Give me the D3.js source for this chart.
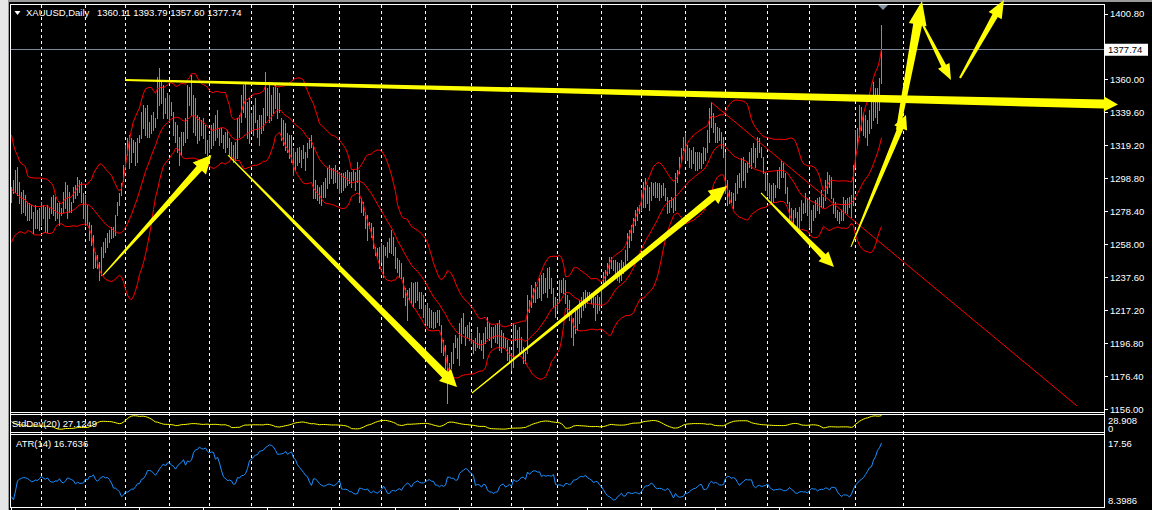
<!DOCTYPE html>
<html><head><meta charset="utf-8">
<script src="https://cdn.jsdelivr.net/npm/d3@7"></script>
<style>html,body{margin:0;padding:0;background:#000;overflow:hidden}svg{display:block}</style>
</head><body><svg id="c" width="1152" height="510"></svg>
<script>
// ---------------- DATA ----------------
const symbolTitle = "XAUUSD,Daily";
const lastOHLC = ["1360.11", "1393.79", "1357.60", "1377.74"];
const currentPrice = 1377.74;

const highs = [
1293.6,1297.7,1303.9,1306.0,1296.7,1290.5,1291.5,1288.5,1284.3,1283.3,
1282.3,1278.1,1282.3,1279.2,1280.2,1284.3,1282.3,1281.2,1282.3,1280.2,
1287.4,1288.5,1287.4,1283.3,1284.3,1280.2,1290.5,1296.7,1294.6,1290.5,
1284.3,1293.6,1294.6,1299.8,1297.7,1296.7,1289.5,1288.5,1282.3,1271.9,
1269.9,1263.7,1253.4,1251.3,1247.2,1256.5,1259.6,1261.6,1264.7,1266.8,
1268.8,1268.8,1276.1,1284.3,1289.5,1295.7,1307.0,1319.4,1323.5,1325.6,
1323.5,1322.5,1321.5,1323.5,1325.6,1340.0,1344.2,1342.1,1344.2,1333.8,
1338.0,1340.0,1335.9,1361.7,1366.9,1358.6,1356.5,1348.3,1351.4,1350.4,
1346.2,1340.0,1333.8,1331.8,1324.6,1327.7,1327.7,1335.9,1356.5,1355.5,
1362.7,1350.4,1348.3,1338.0,1336.9,1334.9,1335.9,1331.8,1322.5,1325.6,
1331.8,1332.8,1338.0,1341.1,1329.7,1329.7,1325.6,1327.7,1328.7,1323.5,
1321.5,1319.4,1321.5,1335.9,1338.0,1350.4,1356.5,1357.6,1346.2,1348.3,
1339.0,1344.2,1348.3,1334.9,1338.0,1338.0,1342.1,1364.8,1354.5,1356.5,
1350.4,1355.5,1356.5,1354.5,1351.4,1335.9,1334.9,1332.8,1326.6,1325.6,
1325.6,1317.3,1315.3,1317.3,1318.4,1316.3,1319.4,1315.3,1320.4,1323.5,
1325.6,1319.0,1297.7,1294.6,1293.6,1294.6,1296.7,1298.8,1305.0,1307.0,
1305.0,1305.0,1307.0,1303.9,1302.9,1301.9,1301.9,1302.9,1303.9,1302.9,
1302.9,1303.9,1302.9,1309.1,1303.9,1286.4,1284.3,1278.1,1276.1,1271.9,
1270.9,1268.8,1256.5,1255.4,1256.5,1258.5,1257.5,1256.5,1259.6,1261.6,
1266.8,1262.7,1256.5,1249.3,1248.2,1246.2,1237.9,1230.7,1229.7,1230.7,
1234.8,1233.8,1234.8,1234.8,1228.6,1228.6,1226.6,1220.4,1221.4,1218.3,
1217.3,1216.2,1216.2,1217.3,1217.3,1208.0,1198.7,1195.6,1189.4,1184.3,
1191.5,1196.7,1201.8,1199.8,1209.0,1212.1,1215.2,1207.0,1208.0,1210.1,
1202.9,1198.7,1199.8,1207.0,1202.9,1198.7,1202.9,1207.0,1213.2,1209.0,
1207.0,1207.0,1208.0,1209.0,1211.1,1204.9,1202.9,1199.8,1198.7,1194.6,
1190.5,1209.0,1208.0,1204.9,1207.0,1200.8,1194.6,1191.5,1226.6,1223.5,
1232.8,1230.7,1234.8,1231.7,1236.9,1238.9,1240.0,1236.9,1243.1,1244.1,
1236.9,1230.7,1225.5,1223.5,1235.9,1235.9,1236.9,1235.9,1226.6,1223.5,
1216.3,1212.1,1219.4,1220.4,1223.5,1225.5,1228.6,1229.7,1228.6,1228.6,
1227.6,1227.6,1225.5,1226.6,1225.5,1231.7,1241.0,1242.0,1246.2,1250.3,
1250.3,1248.2,1248.2,1247.2,1246.2,1248.2,1247.2,1254.4,1264.7,1266.8,
1269.9,1274.0,1279.2,1281.2,1282.3,1291.6,1296.7,1298.8,1294.7,1293.6,
1296.7,1295.7,1296.7,1295.7,1295.7,1294.7,1295.7,1292.6,1287.4,1285.4,
1287.4,1286.4,1301.9,1304.0,1312.2,1317.4,1324.6,1326.6,1319.4,1317.4,
1316.3,1318.4,1315.3,1315.3,1315.3,1314.3,1318.4,1317.4,1328.7,1342.1,
1346.2,1339.0,1332.8,1330.8,1329.7,1327.7,1324.6,1315.3,1297.8,1291.6,
1290.5,1289.5,1295.7,1300.9,1301.9,1311.2,1312.2,1308.1,1309.1,1315.3,
1317.4,1320.4,1317.4,1324.6,1323.5,1318.4,1312.2,1302.9,1300.9,1295.7,
1294.7,1295.7,1294.7,1304.0,1306.0,1310.1,1308.1,1301.9,1293.6,1284.4,
1280.2,1279.2,1280.2,1278.2,1281.3,1285.4,1283.3,1289.5,1286.4,1285.4,
1279.2,1282.3,1285.4,1286.4,1287.4,1291.6,1287.4,1297.8,1302.9,1300.9,
1299.8,1286.4,1284.4,1279.2,1278.2,1279.2,1287.4,1285.4,1286.4,1287.4,
1288.5,1307.0,1328.7,1329.7,1344.2,1343.1,1339.0,1338.0,1334.9,1341.1,
1346.2,1358.6,1354.5,1354.5,1361.0,1393.79];

const lows = [
1284.3,1289.5,1290.5,1288.5,1283.3,1277.1,1278.1,1276.1,1273.0,1273.0,
1274.0,1264.7,1267.8,1267.8,1266.8,1269.9,1274.0,1265.8,1265.8,1274.0,
1277.1,1276.1,1273.0,1274.0,1269.9,1276.1,1278.1,1280.2,1274.0,1278.1,
1278.1,1284.3,1286.4,1288.5,1290.5,1284.3,1274.0,1269.9,1269.9,1260.6,
1257.5,1243.1,1244.1,1243.1,1235.9,1238.9,1250.3,1253.4,1256.5,1259.6,
1261.6,1262.7,1263.7,1276.1,1282.3,1288.5,1297.0,1307.0,1313.2,1305.0,
1309.1,1315.3,1307.0,1309.1,1321.5,1323.5,1329.7,1325.6,1324.6,1324.6,
1326.6,1328.7,1330.7,1336.0,1344.2,1345.2,1335.9,1339.0,1335.9,1333.8,
1338.0,1325.6,1321.5,1315.3,1307.0,1313.2,1319.4,1321.5,1323.5,1344.2,
1338.0,1327.7,1325.6,1320.4,1322.5,1325.6,1323.5,1314.2,1313.2,1315.3,
1317.3,1319.4,1322.5,1324.6,1319.4,1321.5,1317.3,1315.3,1318.4,1313.2,
1311.1,1309.1,1310.1,1311.1,1324.6,1333.8,1340.0,1336.9,1323.5,1320.4,
1328.7,1325.6,1333.8,1324.6,1319.4,1326.6,1328.7,1333.8,1338.0,1333.8,
1334.9,1339.0,1342.1,1335.9,1340.0,1322.5,1319.4,1316.3,1315.3,1311.1,
1309.1,1300.8,1303.9,1307.0,1309.1,1306.0,1311.1,1303.9,1312.2,1317.3,
1318.4,1286.4,1286.4,1285.4,1283.3,1282.3,1287.4,1287.4,1292.6,1295.7,
1298.8,1295.7,1296.7,1292.6,1289.5,1290.5,1291.5,1293.6,1294.6,1295.7,
1293.6,1297.7,1291.5,1296.7,1284.3,1278.1,1276.1,1267.8,1260.6,1267.8,
1262.7,1255.4,1251.3,1249.3,1243.1,1247.2,1237.9,1251.3,1250.3,1253.4,
1252.3,1251.3,1243.1,1241.0,1237.9,1236.9,1225.5,1220.4,1211.1,1223.5,
1221.4,1219.3,1222.4,1223.5,1218.3,1218.3,1213.2,1209.0,1208.0,1207.0,
1207.0,1205.9,1207.0,1210.1,1208.0,1191.5,1189.4,1181.2,1159.5,1178.1,
1181.2,1184.3,1194.6,1187.4,1183.3,1196.7,1202.9,1195.6,1200.8,1198.7,
1196.7,1190.5,1192.5,1194.6,1193.6,1192.5,1187.4,1196.7,1199.8,1198.7,
1194.6,1199.8,1197.7,1196.7,1192.5,1191.5,1194.6,1194.6,1186.4,1184.3,
1180.2,1182.2,1198.7,1194.6,1190.5,1190.5,1184.3,1184.3,1190.5,1216.3,
1219.4,1222.5,1222.5,1224.5,1225.5,1223.5,1227.6,1228.6,1225.5,1230.7,
1227.6,1219.4,1213.2,1217.3,1222.5,1228.6,1227.6,1221.4,1215.2,1211.1,
1200.8,1195.6,1202.9,1204.9,1209.0,1213.2,1217.3,1219.4,1221.4,1223.5,
1221.4,1219.4,1211.1,1215.2,1217.3,1220.4,1231.7,1234.8,1238.9,1240.0,
1243.1,1242.0,1240.0,1235.9,1234.8,1235.9,1240.0,1242.0,1248.2,1256.5,
1260.6,1265.8,1269.9,1273.0,1277.1,1279.2,1281.2,1281.2,1283.3,1279.2,
1285.4,1288.5,1287.4,1287.4,1285.4,1287.4,1288.5,1285.4,1277.1,1278.2,
1281.2,1278.2,1279.2,1296.7,1301.9,1309.1,1316.3,1310.1,1310.1,1306.0,
1305.0,1308.1,1303.9,1303.9,1305.0,1305.0,1308.1,1310.1,1315.0,1321.5,
1330.8,1327.7,1321.5,1321.5,1322.5,1317.4,1312.2,1289.5,1282.3,1283.3,
1284.3,1280.2,1285.4,1289.5,1293.6,1293.6,1297.8,1293.6,1302.9,1306.0,
1305.0,1309.1,1306.0,1312.2,1315.3,1312.2,1301.9,1291.6,1288.5,1286.4,
1284.3,1284.3,1287.4,1293.6,1292.6,1299.8,1299.8,1289.5,1283.3,1273.0,
1273.0,1269.9,1275.1,1268.9,1267.8,1273.0,1277.1,1278.2,1276.1,1268.9,
1265.8,1273.0,1275.1,1279.2,1277.1,1281.3,1281.3,1285.4,1289.5,1293.6,
1286.4,1277.1,1275.1,1273.0,1270.9,1273.0,1273.0,1278.2,1277.1,1281.3,
1275.1,1282.3,1306.0,1318.4,1324.6,1328.7,1325.6,1324.6,1319.4,1326.6,
1329.7,1334.9,1337.0,1332.8,1341.1,1357.60];

const closes = [
1291,1295,1301,1292,1286,1283,1280,1281,1276,1279,
1276,1270,1276,1272,1273,1278,1277,1274,1277,1277,
1283,1280,1276,1278,1275,1279,1287,1288,1282,1282,
1281,1291,1291,1295,1293,1287,1278,1276,1274,1264,
1262,1248,1249,1246,1243,1254,1256,1257,1262,1264,
1266,1266,1275,1282,1287,1294,1303,1317,1318,1322,
1318,1320,1312,1318,1324,1337,1338,1337,1327,1331,
1333,1332,1334,1357,1348,1351,1340,1342,1344,1346,
1340,1328,1324,1318,1315,1316,1324,1330,1354,1349,
1355,1334,1331,1324,1332,1330,1333,1318,1317,1322,
1320,1322,1336,1327,1322,1324,1320,1324,1321,1317,
1314,1316,1312,1332,1331,1347,1349,1346,1326,1340,
1333,1341,1336,1331,1332,1335,1340,1353,1347,1346,
1342,1348,1349,1344,1342,1324,1322,1319,1318,1316,
1315,1305,1310,1312,1314,1313,1314,1313,1318,1319,
1319,1290,1291,1290,1289,1291,1292,1296,1303,1302,
1300,1300,1298,1297,1294,1293,1298,1297,1299,1299,
1297,1300,1297,1302,1285,1280,1278,1270,1268,1269,
1266,1257,1253,1252,1253,1252,1254,1254,1256,1259,
1255,1255,1246,1244,1240,1240,1228,1225,1224,1229,
1225,1226,1231,1225,1224,1222,1217,1215,1211,1214,
1212,1210,1214,1212,1210,1194,1192,1184,1174,1183,
1189,1194,1196,1195,1205,1208,1205,1202,1204,1201,
1197,1196,1197,1199,1199,1194,1201,1203,1205,1203,
1199,1205,1201,1206,1197,1201,1196,1197,1189,1191,
1188,1204,1201,1202,1204,1191,1187,1190,1224,1219,
1229,1226,1228,1227,1235,1230,1233,1232,1233,1234,
1229,1221,1219,1222,1233,1231,1232,1225,1223,1215,
1209,1201,1210,1213,1221,1222,1225,1223,1226,1225,
1223,1223,1215,1221,1222,1230,1238,1238,1242,1248,
1246,1247,1245,1243,1240,1242,1245,1251,1258,1262,
1267,1269,1275,1277,1281,1284,1293,1285,1289,1284,
1293,1292,1288,1291,1293,1290,1292,1287,1281,1283,
1282,1284,1298,1302,1310,1314,1320,1318,1314,1313,
1309,1314,1310,1308,1313,1309,1314,1316,1324,1340,
1339,1330,1326,1328,1326,1321,1316,1292,1287,1286,
1287,1285,1293,1298,1297,1308,1302,1306,1305,1312,
1310,1312,1314,1320,1318,1314,1304,1294,1293,1290,
1288,1290,1293,1299,1303,1306,1302,1292,1285,1276,
1276,1274,1276,1271,1279,1280,1280,1284,1282,1272,
1271,1280,1281,1284,1285,1284,1286,1296,1297,1296,
1288,1281,1277,1275,1275,1276,1283,1280,1283,1282,
1286,1305,1327,1325,1333,1332,1335,1332,1326,1337,
1342,1345,1344,1343,1360,1377.74];

// closes of the 19 sessions before the first visible bar (indicator warm-up)
const warmupCloses = [1329,1320,1310,1311,1301,1292,1297,1311,1294,1284,1287,1280,1271,1274,1275,1269,1274,1285,1292];

// bar indices of the month separators
const monthStarts = [15,37,57,79,99,120,141,164,185,207,230,250,273,295,315,337,357,378,399,422,446];

const priceTicks = ["1400.80","1380.40","1360.00","1339.60","1319.20","1298.80","1278.40","1258.00","1237.60","1217.20","1196.80","1176.40","1156.00"];
const stdDevName = "StdDev(20) 27.1249";
const stdDevTicks = ["28.908", "0"];
const atrName = "ATR(14) 16.7636";
const atrTicks = ["17.56", "8.3986"];

// hand-drawn objects, in [bar index, price]
const redTrendline = [[350, 1346.0], [533, 1157.9]];
const yellowLevel = [[57, 1359.6], [553.5, 1344.5]];
const yellowArrows = [
  [[46, 1238.9], [100.2, 1313.2]],
  [[108.5, 1313.2], [223, 1169.6]],
  [[230.5, 1165.9], [358, 1294.0]],
  [[375, 1289.7], [411.5, 1243.9]],
  [[420, 1256.3], [447.5, 1338.0]],
  [[443.5, 1328.7], [455.5, 1408.5]],
  [[456, 1393.7], [470, 1359.6]],
  [[474.5, 1360.9], [496.5, 1409.2]]
];

// ---------------- STYLE / LAYOUT ----------------
const arrowStyle = [
  {w0:1, w1:7, hw:18, hl:18},
  {w0:1, w1:8, hw:17, hl:17},
  {w0:1, w1:7, hw:17, hl:18},
  {w0:1, w1:6, hw:14, hl:15},
  {w0:1, w1:6, hw:14, hl:14},
  {w0:4, w1:9, hw:18, hl:24},
  {w0:2, w1:5, hw:13, hl:16},
  {w0:2, w1:6, hw:15, hl:18}
];
const levelStyle = {w0:2, w1:9, hw:15, hl:14};
const C = {bg:"#000", bar:"#32cd32", band:"#ff0000", grid:"#ffffff", text:"#ffffff",
           yellow:"#ffff00", atr:"#1e90ff", priceLine:"#7b8a9c"};
const FONT = "'Liberation Sans', Arial, sans-serif";

const svg = d3.select("#c");
const N = closes.length;
const x = d3.scaleLinear().domain([0, N - 1]).range([11, 881]);
const y = d3.scaleLinear().domain([1156, 1400.8]).range([409, 13.5]);

// ---------------- INDICATORS ----------------
const all = warmupCloses.concat(closes);
const W = warmupCloses.length;
const mid = [], sd = [];
for (let i = 0; i < N; i++) {
  const s = Math.max(0, i + W - 19);
  const win = all.slice(s, i + W + 1);
  const m = d3.mean(win);
  const v = d3.mean(win, d => (d - m) * (d - m));
  mid.push(m); sd.push(Math.sqrt(v));
}
const tr = closes.map((c, i) => {
  const pc = i === 0 ? warmupCloses[W - 1] : closes[i - 1];
  return Math.max(highs[i], pc) - Math.min(lows[i], pc);
});
const atr = tr.map((t, i) => d3.mean(tr.slice(Math.max(0, i - 13), i + 1)));

// ---------------- BACKGROUND / FRAME ----------------
svg.append("rect").attr("width", 1152).attr("height", 510).attr("fill", C.bg);
svg.append("rect").attr("x", 0).attr("y", 0).attr("width", 1152).attr("height", 2).attr("fill", "#9a9a9a");
svg.append("rect").attr("x", 0).attr("y", 0).attr("width", 8).attr("height", 510).attr("fill", "#e6e6e6");
svg.append("line").attr("x1", 8.5).attr("x2", 8.5).attr("y1", 0).attr("y2", 510).attr("stroke", "#9a9a9a");

const defs = svg.append("defs");
defs.append("clipPath").attr("id", "mainClip").append("rect").attr("x", 11).attr("y", 5).attr("width", 1093).attr("height", 407);
defs.append("clipPath").attr("id", "sdClip").append("rect").attr("x", 11).attr("y", 415).attr("width", 1093).attr("height", 17);
defs.append("clipPath").attr("id", "atrClip").append("rect").attr("x", 11).attr("y", 435).attr("width", 1093).attr("height", 72);

// grid (month separators) through all windows
const gridG = svg.append("g");
gridG.selectAll("line").data(monthStarts).join("line")
  .attr("x1", d => x(d) + 0.5).attr("x2", d => x(d) + 0.5)
  .attr("y1", 5).attr("y2", 507)
  .attr("stroke", C.grid).attr("stroke-dasharray", "3,3").attr("stroke-width", 1);

// frame lines
const frame = svg.append("g").attr("stroke", "#fff").attr("stroke-width", 1).attr("shape-rendering", "crispEdges");
[4.5, 412.5, 414.5, 432.5, 434.5, 507.5].forEach(v => {
  frame.append("line").attr("x1", 10).attr("x2", 1105).attr("y1", v).attr("y2", v);
});
frame.append("line").attr("x1", 10.5).attr("x2", 10.5).attr("y1", 4).attr("y2", 508);
frame.append("line").attr("x1", 1104.5).attr("x2", 1104.5).attr("y1", 4).attr("y2", 508);

// bottom time ticks
svg.append("g").selectAll("line").data(d3.range(0, N, 32)).join("line")
  .attr("x1", d => x(d) + 0.5).attr("x2", d => x(d) + 0.5).attr("y1", 507).attr("y2", 510)
  .attr("stroke", "#fff");

// ---------------- MAIN WINDOW ----------------
const main = svg.append("g").attr("clip-path", "url(#mainClip)");

// current price line
main.append("line").attr("x1", 10).attr("x2", 1104)
  .attr("y1", Math.floor(y(currentPrice)) - 0.5).attr("y2", Math.floor(y(currentPrice)) - 0.5)
  .attr("stroke", C.priceLine);

// bars
main.append("g").selectAll("line").data(d3.range(N)).join("line")
  .attr("x1", i => x(i) + 0.5).attr("x2", i => x(i) + 0.5)
  .attr("y1", i => y(highs[i])).attr("y2", i => y(lows[i]) + 1)
  .attr("stroke", C.bar).attr("stroke-width", 1).attr("shape-rendering", "crispEdges");

// bollinger bands
const bandLine = f => d3.line().x(i => x(i) + 0.5).y(i => y(f(i)));
[i => mid[i] + 2 * sd[i], i => mid[i], i => mid[i] - 2 * sd[i]].forEach(f => {
  main.append("path").datum(d3.range(N)).attr("d", bandLine(f))
    .attr("fill", "none").attr("stroke", C.band).attr("stroke-width", 1);
});

// red trendline
main.append("line")
  .attr("x1", x(redTrendline[0][0])).attr("y1", y(redTrendline[0][1]))
  .attr("x2", x(redTrendline[1][0])).attr("y2", y(redTrendline[1][1]))
  .attr("stroke", C.band).attr("stroke-width", 1);

// shift marker
const sx = x(N);
svg.append("path").attr("d", `M${sx - 5},5L${sx + 5},5L${sx},10Z`).attr("fill", "#8090a0");

// ---------------- STDDEV WINDOW ----------------
const ySd = d3.scaleLinear().domain([0, d3.max(sd)]).range([431, 415.5]);
svg.append("path").datum(d3.range(N)).attr("clip-path", "url(#sdClip)")
  .attr("d", d3.line().x(i => x(i) + 0.5).y(i => ySd(sd[i])))
  .attr("fill", "none").attr("stroke", C.yellow).attr("stroke-width", 1);

// ---------------- ATR WINDOW ----------------
const yAtr = d3.scaleLinear().domain(d3.extent(atr)).range([500, 443]);
svg.append("path").datum(d3.range(N)).attr("clip-path", "url(#atrClip)")
  .attr("d", d3.line().x(i => x(i) + 0.5).y(i => yAtr(atr[i])))
  .attr("fill", "none").attr("stroke", C.atr).attr("stroke-width", 1);

// ---------------- TEXT ----------------
const txt = (s, tx, ty, col, anchor, size) => svg.append("text").attr("x", tx).attr("y", ty)
  .attr("fill", col || C.text).attr("font-family", FONT).attr("font-size", size || 9.5)
  .attr("text-anchor", anchor || "start").text(s);

// price axis
const axisG = svg.append("g");
priceTicks.forEach(t => {
  const ty = y(+t);
  axisG.append("line").attr("x1", 1105).attr("x2", 1108).attr("y1", Math.round(ty) + 0.5).attr("y2", Math.round(ty) + 0.5).attr("stroke", "#fff");
  txt(t, 1110, ty + 3.5);
});
// current price label
const cy = y(currentPrice) - 1;
svg.append("rect").attr("x", 1105).attr("y", cy - 6).attr("width", 43).attr("height", 12).attr("fill", "#fff");
txt(lastOHLC[3], 1108, cy + 3.5, "#000");

// title
svg.append("path").attr("d", "M14.5,11L20.5,11L17.5,15Z").attr("fill", "#fff");
txt(symbolTitle, 26, 16);
txt(lastOHLC.join(" "), 97, 16);

// sub-window labels
txt(stdDevName, 12, 427);
txt(stdDevTicks[0], 1108, 424);
txt(stdDevTicks[1], 1108, 431.5);
txt(atrName, 16, 447);
txt(atrTicks[0], 1108, 447);
txt(atrTicks[1], 1108, 504);

// ---------------- YELLOW ANNOTATIONS (on top) ----------------
function arrowPath(a, b, st) {
  const p0 = [x(a[0]), y(a[1])], p1 = [x(b[0]), y(b[1])];
  const dx = p1[0] - p0[0], dy = p1[1] - p0[1], L = Math.hypot(dx, dy);
  const u = [dx / L, dy / L], n = [-u[1], u[0]];
  const bp = [p1[0] - u[0] * st.hl, p1[1] - u[1] * st.hl];
  const P = (p, k) => [p[0] + n[0] * k, p[1] + n[1] * k];
  const pts = [P(p0, st.w0 / 2), P(bp, st.w1 / 2), P(bp, st.hw / 2), p1, P(bp, -st.hw / 2), P(bp, -st.w1 / 2), P(p0, -st.w0 / 2)];
  return "M" + pts.map(p => p[0].toFixed(1) + "," + p[1].toFixed(1)).join("L") + "Z";
}
const ann = svg.append("g").attr("fill", C.yellow);
ann.append("path").attr("d", arrowPath(yellowLevel[0], yellowLevel[1], levelStyle));
yellowArrows.forEach((a, k) => ann.append("path").attr("d", arrowPath(a[0], a[1], arrowStyle[k])));
</script>
</body></html>
